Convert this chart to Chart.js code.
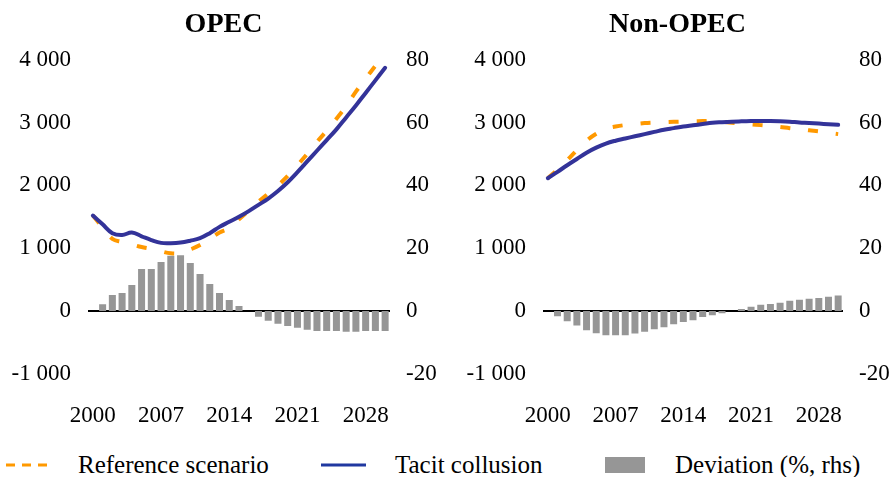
<!DOCTYPE html>
<html>
<head>
<meta charset="utf-8">
<script src="https://cdn.jsdelivr.net/npm/chart.js@4.4.1/dist/chart.umd.min.js"></script>
<style>
  html, body { margin: 0; padding: 0; background: #fff; }
  #wrap { position: relative; width: 894px; height: 477px; overflow: hidden; font-family: "Liberation Serif", "Times New Roman", serif; }
  canvas { position: absolute; top: 0; }
  .lg { position: absolute; font-size: 25px; line-height: 30px; color: #000; white-space: nowrap; }
</style>
</head>
<body>
<div id="wrap">
  <canvas id="c1" width="447" height="430" style="left:0px"></canvas>
  <canvas id="c2" width="433" height="430" style="left:461px"></canvas>
  <svg class="lg" style="left:6px; top:458px" width="46" height="14"><line x1="0" y1="7" x2="46" y2="7" stroke="#FF9900" stroke-width="3" stroke-dasharray="9 7"/></svg>
  <div class="lg" style="left:78px; top:450px">Reference scenario</div>
  <svg class="lg" style="left:321px; top:458px" width="45" height="14"><line x1="0" y1="7" x2="45" y2="7" stroke="#2038A0" stroke-width="3"/></svg>
  <div class="lg" style="left:395px; top:450px">Tacit collusion</div>
  <div class="lg" style="left:605px; top:457px; width:40px; height:16px; background:#969696"></div>
  <div class="lg" style="left:675px; top:450px">Deviation (%, rhs)</div>
</div>
<script>
const years = ['2000','2001','2002','2003','2004','2005','2006','2007','2008','2009','2010',
  '2011','2012','2013','2014','2015','2016','2017','2018','2019','2020',
  '2021','2022','2023','2024','2025','2026','2027','2028','2029','2030'];
const xTickLabels = ['2000','2007','2014','2021','2028'];
const leftTicks = [-1000, 0, 1000, 2000, 3000, 4000];
const rightTicks = [-20, 0, 20, 40, 60, 80];

const opecTacit = [1520,1380,1240,1210,1250,1190,1130,1085,1080,1090,1120,1160,1240,1340,1420,1500,1590,1690,1790,1910,2050,2210,2380,2550,2720,2890,3080,3270,3470,3670,3870];
const opecRef   = [1520,1330,1150,1100,1060,1020,990,950,920,925,980,1050,1150,1250,1320,1460,1600,1740,1870,2000,2150,2320,2500,2690,2870,3060,3260,3490,3700,3900,4100];
const opecDev   = [null,2.2,5.1,5.8,8.3,13.4,13.4,15.6,17.6,17.8,15.3,11.8,8.6,5.8,3.5,1.6,null,-1.8,-3.1,-4.0,-4.7,-5.3,-5.9,-6.3,-6.3,-6.3,-6.6,-6.6,-6.3,-6.3,-6.3];

const nonTacit = [2113,2215,2320,2420,2520,2600,2665,2710,2745,2780,2815,2850,2885,2910,2935,2955,2975,2995,3005,3013,3018,3022,3025,3025,3020,3012,3000,2992,2982,2972,2962];
const nonRef   = [2113,2251,2400,2560,2710,2820,2900,2935,2960,2975,2990,2998,3005,3010,3014,3018,3022,3025,3010,2995,2980,2970,2958,2946,2930,2910,2895,2875,2860,2835,2815];
const nonDev   = [null,-1.6,-3.2,-4.6,-6.1,-7.0,-7.7,-7.7,-7.7,-7.1,-6.6,-5.8,-5.1,-4.2,-3.5,-2.9,-1.9,-1.3,-0.7,null,0.7,1.4,2.0,2.3,2.7,3.3,3.6,3.9,4.2,4.6,5.0];

const FONT = "'Liberation Serif', 'Times New Roman', serif";
const ORANGE = '#FF9900', BLUE = '#333399', GREY = '#969696';

function fmtThousands(v) {
  const s = Math.abs(v).toString().replace(/\B(?=(\d{3})+(?!\d))/g, ' ');
  return (v < 0 ? '-' : '') + s;
}

function makeChart(id, title, tacit, ref, dev, leftW, rightW) {
  return new Chart(document.getElementById(id), {
    data: {
      labels: years,
      datasets: [
        { type: 'line', label: 'Tacit collusion', data: tacit, yAxisID: 'y', borderColor: BLUE, borderWidth: 4,
          pointRadius: 0, tension: 0.4, order: 0, borderCapStyle: 'round' },
        { type: 'line', label: 'Reference scenario', data: ref, yAxisID: 'y', borderColor: ORANGE, borderWidth: 4,
          borderDash: [10, 18], pointRadius: 0, tension: 0.4, order: 1 },
        { type: 'bar', label: 'Deviation (%, rhs)', data: dev, yAxisID: 'y1', backgroundColor: GREY,
          categoryPercentage: 1.0, barPercentage: 0.72, order: 2 }
      ]
    },
    options: {
      responsive: false,
      animation: false,
      layout: { padding: { top: 0, bottom: 0, left: 0, right: 0 } },
      plugins: {
        legend: { display: false },
        tooltip: { enabled: false },
        title: { display: true, text: title, color: '#000',
          font: { family: FONT, size: 28, weight: 'bold' }, padding: { top: 8, bottom: 18 } }
      },
      scales: {
        x: {
          offset: true,
          grid: { display: false },
          border: { display: false },
          ticks: { autoSkip: false, maxRotation: 0, minRotation: 0, padding: 20, color: '#000',
            font: { family: FONT, size: 23 },
            callback: function(v, i) { const l = years[i]; return xTickLabels.includes(l) ? l : ''; } },
          afterFit: s => { s.height = 56; }
        },
        y: {
          position: 'left', min: -1000, max: 4000, z: 1,
          afterBuildTicks: s => { s.ticks = leftTicks.map(v => ({ value: v })); },
          grid: { drawTicks: false, color: c => (c.tick && c.tick.value === 0) ? '#000' : 'rgba(0,0,0,0)', lineWidth: 2 },
          border: { display: false },
          ticks: { padding: 17, color: '#000', font: { family: FONT, size: 23 }, callback: v => fmtThousands(v) },
          afterFit: s => { s.width = leftW; }
        },
        y1: {
          position: 'right', min: -20, max: 80,
          afterBuildTicks: s => { s.ticks = rightTicks.map(v => ({ value: v })); },
          grid: { display: false, drawTicks: false },
          border: { display: false },
          ticks: { padding: 16, color: '#000', font: { family: FONT, size: 23 } },
          afterFit: s => { s.width = rightW; }
        }
      }
    }
  });
}

makeChart('c1', 'OPEC', opecTacit, opecRef, opecDev, 88, 57);
makeChart('c2', 'Non-OPEC', nonTacit, nonRef, nonDev, 82, 51);
</script>
</body>
</html>
